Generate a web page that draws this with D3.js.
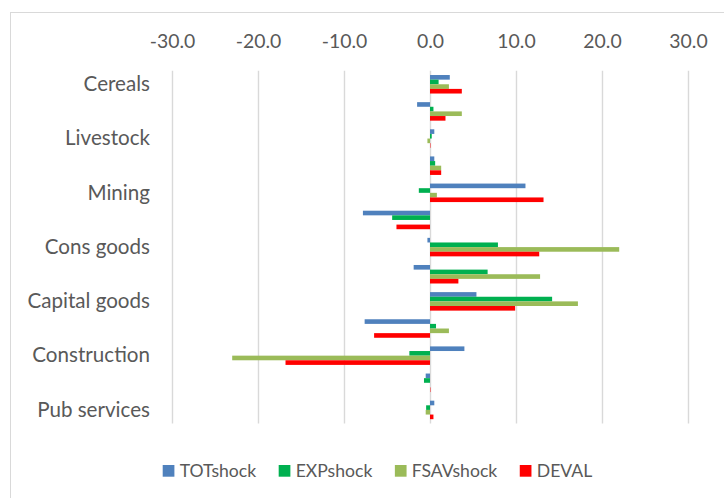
<!DOCTYPE html>
<html><head><meta charset="utf-8">
<script src="https://cdn.jsdelivr.net/npm/d3@7"></script>
<style>
body{margin:0;background:#fff}
svg text{font-family:Lato,"Liberation Sans",sans-serif;fill:#595959}
</style>
</head><body>
<svg id="chart" width="724" height="498"></svg>
<script>
// ---- data ----
const categories = ["Cereals","","Livestock","","Mining","","Cons goods","","Capital goods","","Construction","","Pub services"];
const seriesNames = ["TOTshock","EXPshock","FSAVshock","DEVAL"];
const TOTshock  = [2.3, -1.5, 0.5, 0.5, 11.1, -7.8, -0.3, -1.9, 5.4, -7.6, 4.0, -0.5, 0.5];
const EXPshock  = [1.0, 0.4, 0.2, 0.6, -1.3, -4.4, 7.9, 6.7, 14.2, 0.7, -2.4, -0.7, -0.45];
const FSAVshock = [2.2, 3.7, -0.3, 1.3, 0.8, 0.0, 22.0, 12.8, 17.2, 2.2, -23.0, 0.0, -0.5];
const DEVAL     = [3.7, 1.8, 0.05, 1.3, 13.2, -3.9, 12.7, 3.3, 9.9, -6.5, -16.8, 0.05, 0.4];
const tickValues = [-30, -20, -10, 0, 10, 20, 30];
const colors = ["#4F81BD","#00B050","#9BBB59","#FF0000"];

const seriesData = [TOTshock, EXPshock, FSAVshock, DEVAL];
const svg = d3.select("#chart");

// chart area border (extends beyond the window)
svg.append("rect").attr("x",10.5).attr("y",12.5).attr("width",760).attr("height",520)
  .attr("fill","none").attr("stroke","#D9D9D9").attr("stroke-width",1);

const plotTop = 70.7, plotBottom = 423.5;
const x = d3.scaleLinear().domain([-30,30]).range([172,688]);
const idx = d3.range(categories.length);
const y0 = d3.scaleBand().domain(idx).range([plotTop,plotBottom]).paddingInner(0.318).paddingOuter(0.159);
const y1 = d3.scaleBand().domain(d3.range(seriesNames.length)).range([0,y0.bandwidth()]);

// axis + gridlines
const ax = svg.append("g").attr("transform",`translate(0,${plotTop})`)
  .call(d3.axisTop(x).tickValues(tickValues).tickSize(-(plotBottom-plotTop)).tickPadding(22.4)
    .tickFormat(d=>d.toFixed(1)));
ax.select(".domain").remove();
ax.selectAll(".tick line").attr("stroke","#D9D9D9").attr("stroke-width",1.4);
ax.selectAll(".tick text").attr("font-size",19.4).attr("fill","#595959")
  .style("font-family",'Lato,"Liberation Sans",sans-serif');

// bars
const groups = svg.append("g").selectAll("g").data(idx).join("g")
  .attr("transform",i=>`translate(0,${y0(i)})`);
groups.selectAll("rect").data(i=>seriesData.map((s,k)=>({k,v:s[i]}))).join("rect")
  .attr("x",d=>x(Math.min(0,d.v)))
  .attr("width",d=>Math.abs(x(d.v)-x(0)))
  .attr("y",d=>y1(d.k))
  .attr("height",y1.bandwidth())
  .attr("fill",d=>colors[d.k]);

// category labels
svg.append("g").selectAll("text").data(idx).join("text")
  .attr("x",150).attr("y",i=>y0(i)+y0.bandwidth()/2+6.7)
  .attr("text-anchor","end").attr("font-size",20.6)
  .text(i=>categories[i]);

// legend
const leg = svg.append("g");
let lx = 162.7;
seriesNames.forEach((n,k)=>{
  leg.append("rect").attr("x",lx).attr("y",465).attr("width",11.7).attr("height",11.7).attr("fill",colors[k]);
  const t = leg.append("text").attr("x",lx+17).attr("y",476.5).attr("font-size",17.6).text(n);
  const w = t.node().getComputedTextLength();
  lx += 17 + w + 22.5;
});
</script>
</body></html>
